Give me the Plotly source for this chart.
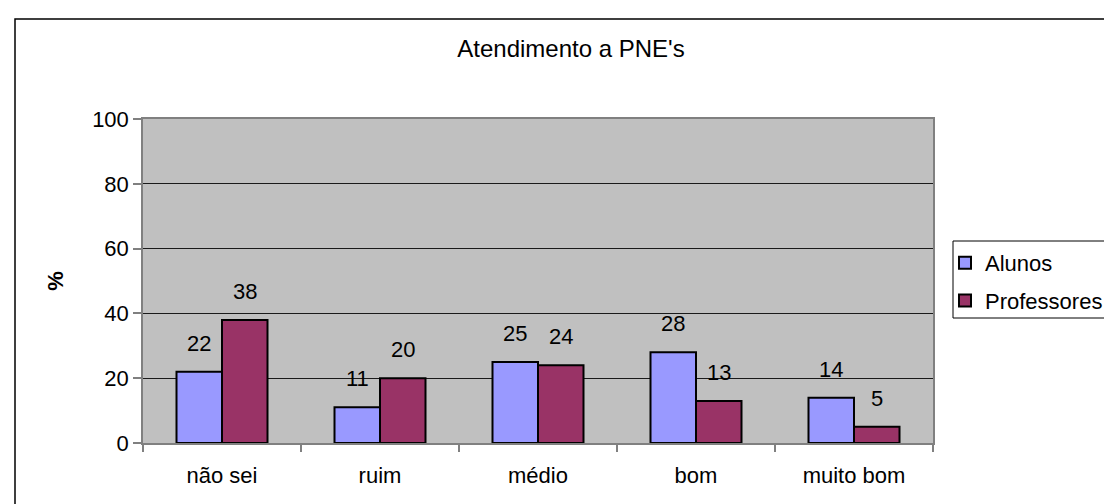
import plotly.graph_objects as go

categories = ["não sei", "ruim", "médio", "bom", "muito bom"]
alunos = [22, 11, 25, 28, 14]
professores = [38, 20, 24, 13, 5]
y_ticks = [0, 20, 40, 60, 80, 100]
title_text = "Atendimento a PNE's"
y_title = "<b>%</b>"

FONT = "Liberation Sans, Arial, sans-serif"
W, H = 1112, 504
L, R, T, B = 135, 187, 111, 69
PW, PH = W - L - R, H - T - B
BW = 0.288

fig = go.Figure()
fig.add_trace(go.Bar(
    name="Alunos", x=categories, y=alunos, width=BW, offset=-BW,
    marker=dict(color="#9999FF", line=dict(color="#000000", width=2)),
    legendgroup="a",
))
fig.add_trace(go.Bar(
    name="Professores", x=categories, y=professores, width=BW, offset=0,
    marker=dict(color="#993366", line=dict(color="#000000", width=2)),
    legendgroup="p",
))

annotations = []
for i, (a, p) in enumerate(zip(alunos, professores)):
    for val, dx in ((a, -BW / 2), (p, BW / 2)):
        annotations.append(dict(
            x=i + dx, y=val, xref="x", yref="y", text=str(val),
            showarrow=False, yanchor="bottom", yshift=14,
            font=dict(family=FONT, size=22, color="#000000"),
        ))

def px_x(v):
    return (v - L) / PW

def px_y(v):
    return (T + PH - v) / PH

shapes = [
    # chart frame
    dict(type="rect", xref="paper", yref="paper",
         x0=px_x(7), x1=px_x(W + 5), y0=px_y(H + 5), y1=px_y(11),
         line=dict(color="#000000", width=1.5), layer="below"),
    # legend frame
    dict(type="rect", xref="paper", yref="paper",
         x0=px_x(945), x1=px_x(W + 5), y0=px_y(310), y1=px_y(233),
         line=dict(color="#000000", width=1), layer="below"),
]

fig.update_layout(
    width=W, height=H,
    margin=dict(l=L, r=R, t=T, b=B, pad=0, autoexpand=False),
    paper_bgcolor="#FFFFFF", plot_bgcolor="#C0C0C0",
    font=dict(family=FONT, size=22, color="#000000"),
    title=dict(text=title_text, x=563 / W, xanchor="center",
               y=1 - 41 / H, yanchor="middle",
               font=dict(family=FONT, size=24, color="#000000")),
    barmode="group",
    showlegend=True,
    legend=dict(
        xref="container", yref="container",
        x=937 / W, xanchor="left",
        y=1 - 234 / H, yanchor="top",
        borderwidth=0, bgcolor="rgba(0,0,0,0)",
        font=dict(family=FONT, size=22, color="#000000"),
        traceorder="grouped", tracegroupgap=6,
        itemwidth=30,
    ),
    annotations=annotations,
    shapes=shapes,
)
fig.update_xaxes(
    type="category", categoryorder="array", categoryarray=categories,
    showgrid=False, showline=True, linecolor="#808080", linewidth=1.5, mirror=True,
    ticks="outside", tickson="boundaries", ticklen=7, tickcolor="#808080", tickwidth=1.5,
    tickfont=dict(family=FONT, size=22, color="#000000"),
    ticklabelstandoff=12,
)
fig.update_yaxes(
    range=[0, 100], tickvals=y_ticks, showgrid=True, gridcolor="#1a1a1a", gridwidth=1,
    showline=True, linecolor="#808080", linewidth=1.5, mirror=True,
    ticks="outside", ticklen=8, tickcolor="#808080", tickwidth=1.5,
    tickfont=dict(family=FONT, size=22, color="#000000"),
    zeroline=False,
    title=dict(text=y_title, standoff=22, font=dict(family=FONT, size=22, color="#000000")),
)

fig.write_html("out.html")
